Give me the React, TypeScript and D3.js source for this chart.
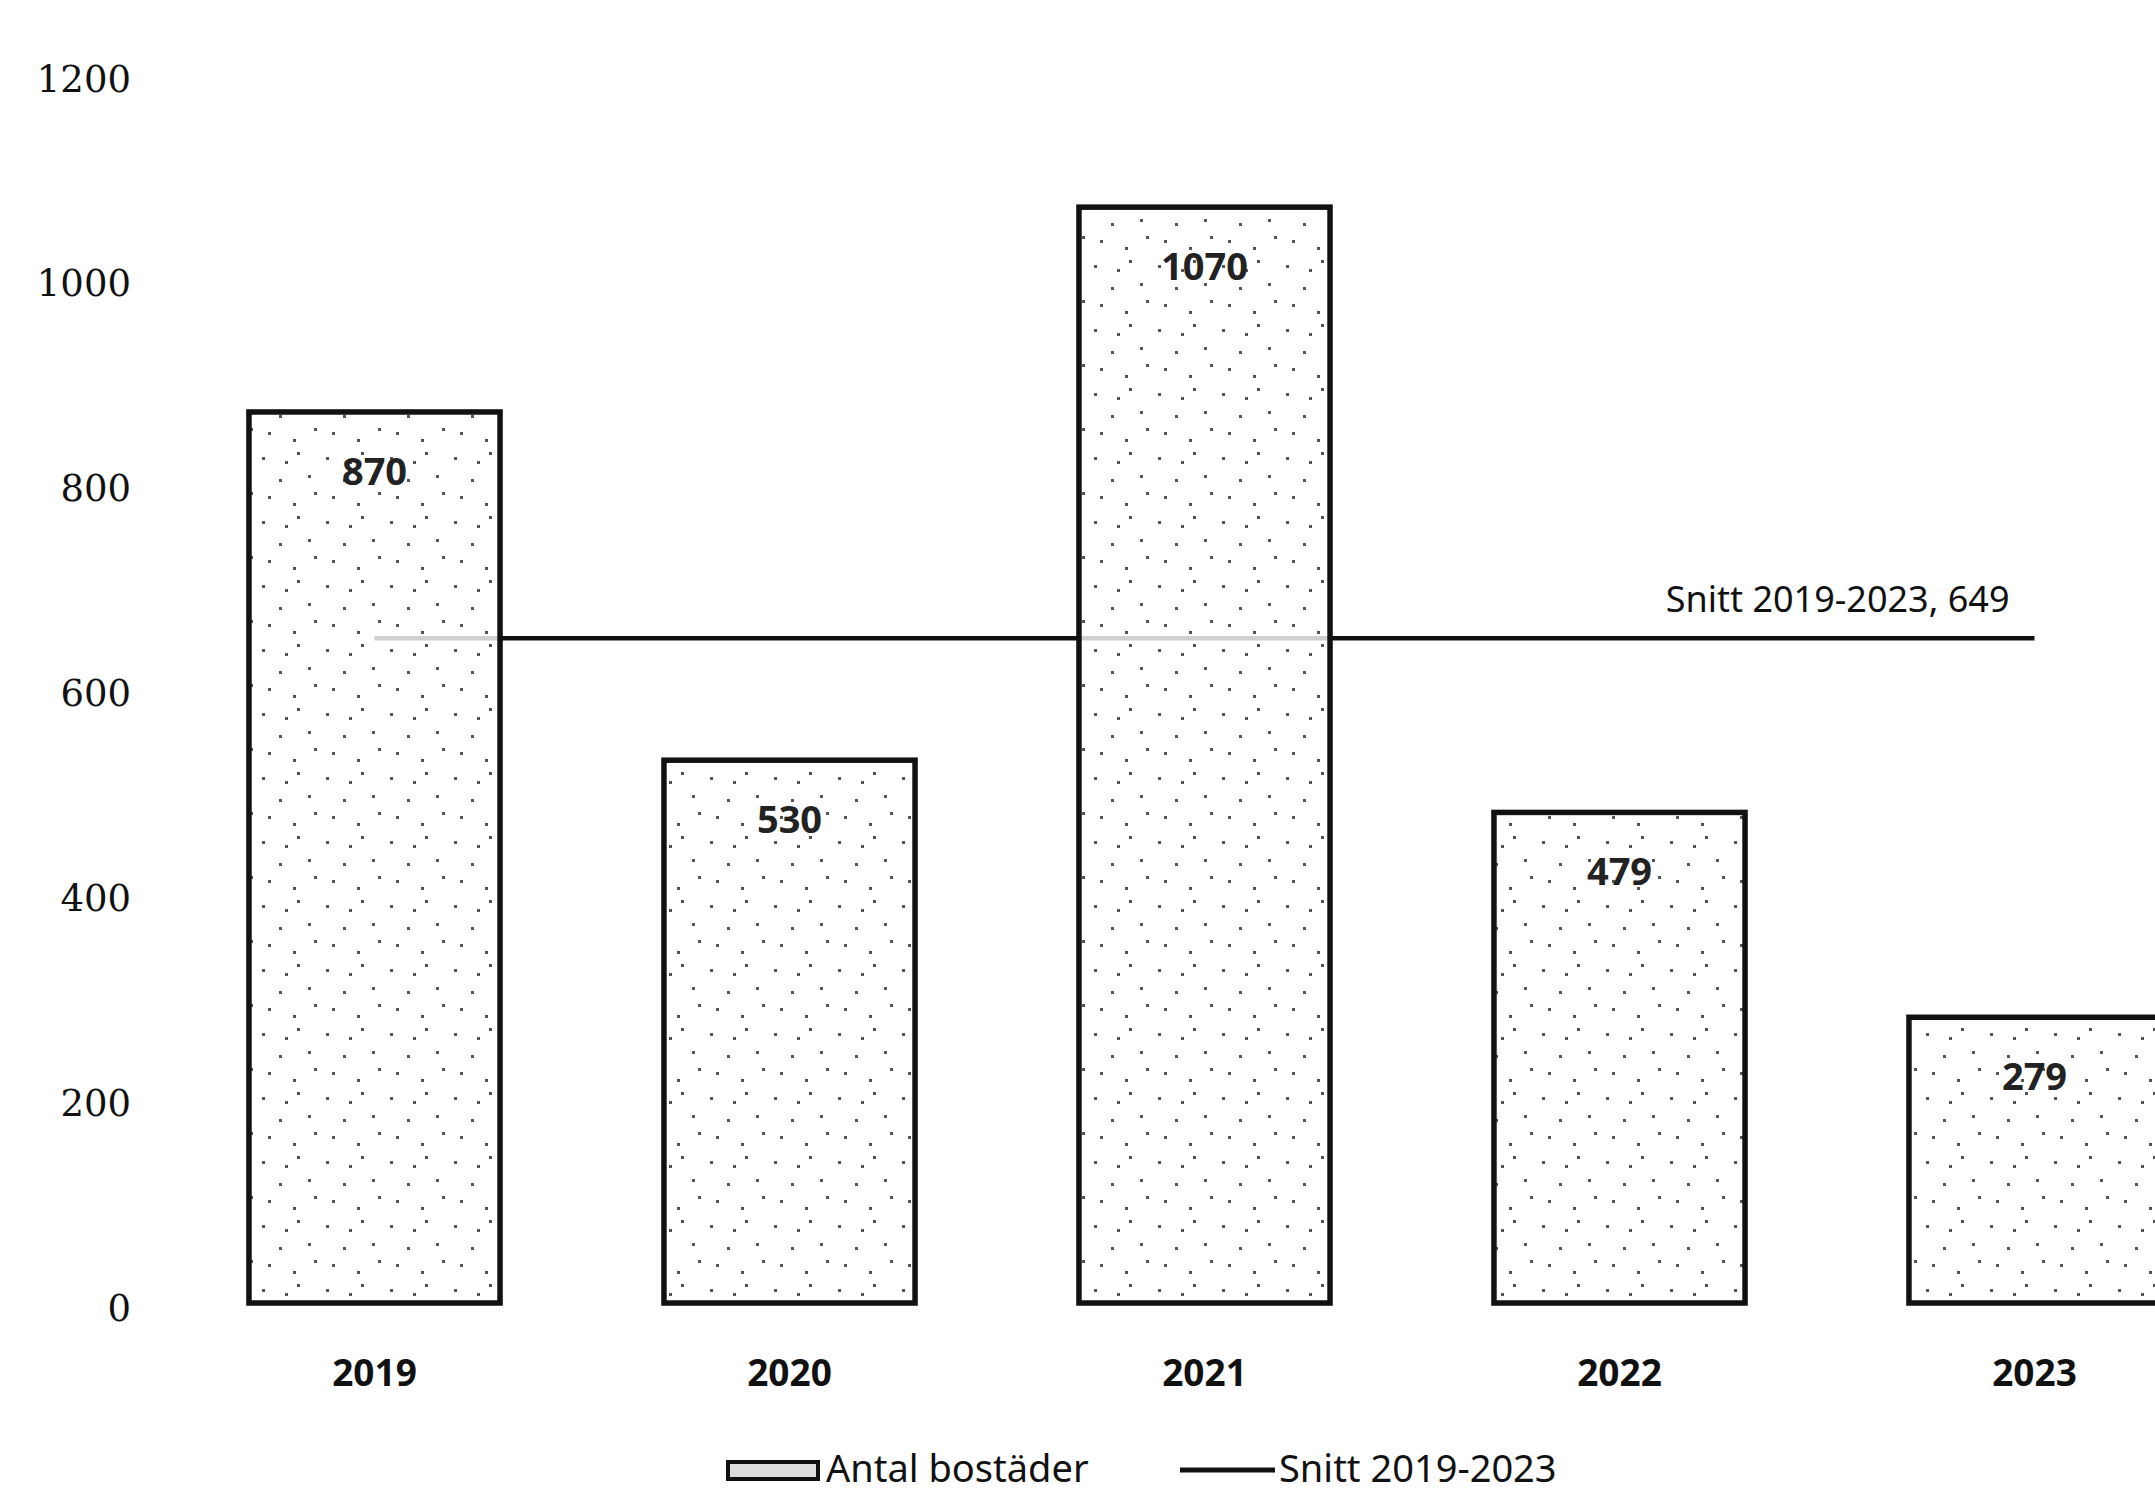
import * as d3 from "d3";
import { useEffect, useRef } from "react";

// data
const years = ["2019", "2020", "2021", "2022", "2023"];
const antalBostader = [870, 530, 1070, 479, 279];
const snitt = 649;
const yTicks = [0, 200, 400, 600, 800, 1000, 1200];
const legendLabels = ["Antal bostäder", "Snitt 2019-2023"];

// fixed speckle texture for the bars (style only)
const speckles = [
  [6, 9], [41, 4], [23, 31], [52, 27], [12, 48], [37, 55], [58, 44], [29, 13],
];

export default function App() {
  const svgRef = useRef<SVGSVGElement>(null);
  const width = 2155;
  const height = 1497;

  useEffect(() => {
    document.body.style.margin = "0";
    document.body.style.overflow = "hidden";

    const svg = d3
      .select(svgRef.current)
      .attr("viewBox", `0 0 ${width} ${height}`)
      .attr("width", width)
      .attr("height", height);
    svg.selectAll("*").remove();

    const sans = "'Noto Sans', 'Open Sans', sans-serif";
    const serif = "'DejaVu Serif', 'Liberation Serif', serif";

    // texture pattern
    const defs = svg.append("defs");
    const pat = defs
      .append("pattern")
      .attr("id", "speckle")
      .attr("patternUnits", "userSpaceOnUse")
      .attr("width", 64)
      .attr("height", 64);
    pat.append("rect").attr("width", 64).attr("height", 64).attr("fill", "#fff").attr("fill-opacity", 0.8);
    pat
      .selectAll("rect.dot")
      .data(speckles)
      .enter()
      .append("rect")
      .attr("class", "dot")
      .attr("x", (d) => d[0])
      .attr("y", (d) => d[1])
      .attr("width", 3)
      .attr("height", 3)
      .attr("fill", "#555");

    const x = d3
      .scaleBand<string>()
      .domain(years)
      .range([167, 2242])
      .paddingInner(0.395)
      .paddingOuter(0.1975);
    const y = d3.scaleLinear().domain([0, 1200]).range([1303, 74]);

    // y tick labels (no axis line, no gridlines)
    svg
      .append("g")
      .selectAll("text")
      .data(yTicks)
      .enter()
      .append("text")
      .attr("x", 131)
      .attr("y", (d) => y(d) + 5)
      .attr("text-anchor", "end")
      .attr("dominant-baseline", "central")
      .style("font-family", serif)
      .style("font-size", "37px")
      .attr("fill", "#111")
      .text((d) => d);

    // average line, behind the bars
    const half = x.bandwidth() / 2;
    const x0 = x(years[0])! + half;
    const x1 = x(years[years.length - 1])! + half;
    svg
      .append("line")
      .attr("x1", x0)
      .attr("x2", x1)
      .attr("y1", y(snitt))
      .attr("y2", y(snitt))
      .attr("stroke", "#111")
      .attr("stroke-width", 4.5);

    svg
      .append("text")
      .attr("x", x1 - 25)
      .attr("y", y(snitt) - 26)
      .attr("text-anchor", "end")
      .style("font-family", sans)
      .style("font-size", "36px")
      .attr("fill", "#111")
      .text(`Snitt 2019-2023, ${snitt}`);

    // bars
    const rows = years.map((yr, i) => ({ yr, v: antalBostader[i] }));
    svg
      .append("g")
      .selectAll("rect")
      .data(rows)
      .enter()
      .append("rect")
      .attr("x", (d) => x(d.yr)!)
      .attr("y", (d) => y(d.v))
      .attr("width", x.bandwidth())
      .attr("height", (d) => y(0) - y(d.v))
      .attr("fill", "url(#speckle)")
      .attr("stroke", "#111")
      .attr("stroke-width", 5.5);

    // value labels inside bar tops
    svg
      .append("g")
      .selectAll("text")
      .data(rows)
      .enter()
      .append("text")
      .attr("x", (d) => x(d.yr)! + half)
      .attr("y", (d) => y(d.v) + 58)
      .attr("text-anchor", "middle")
      .attr("dominant-baseline", "central")
      .style("font-family", sans)
      .style("font-size", "38px")
      .style("font-weight", "bold")
      .attr("fill", "#222")
      .text((d) => d.v);

    // x category labels
    svg
      .append("g")
      .selectAll("text")
      .data(years)
      .enter()
      .append("text")
      .attr("x", (d) => x(d)! + half)
      .attr("y", 1386)
      .attr("text-anchor", "middle")
      .style("font-family", sans)
      .style("font-size", "37px")
      .style("font-weight", "bold")
      .attr("fill", "#111")
      .text((d) => d);

    // legend
    const lg = svg.append("g");
    lg.append("rect")
      .attr("x", 728)
      .attr("y", 1462)
      .attr("width", 90)
      .attr("height", 17)
      .attr("fill", "#ddd")
      .attr("stroke", "#111")
      .attr("stroke-width", 4);
    lg.append("text")
      .attr("x", 826)
      .attr("y", 1482)
      .style("font-family", sans)
      .style("font-size", "38px")
      .attr("fill", "#111")
      .text(legendLabels[0]);
    lg.append("line")
      .attr("x1", 1180)
      .attr("x2", 1275)
      .attr("y1", 1470)
      .attr("y2", 1470)
      .attr("stroke", "#111")
      .attr("stroke-width", 5);
    lg.append("text")
      .attr("x", 1279)
      .attr("y", 1482)
      .style("font-family", sans)
      .style("font-size", "38px")
      .attr("fill", "#111")
      .text(legendLabels[1]);

    return () => {};
  }, []);

  return (
    <div style={{ width, height, overflow: "hidden", background: "#fff" }}>
      <svg ref={svgRef} style={{ display: "block" }}></svg>
    </div>
  );
}
